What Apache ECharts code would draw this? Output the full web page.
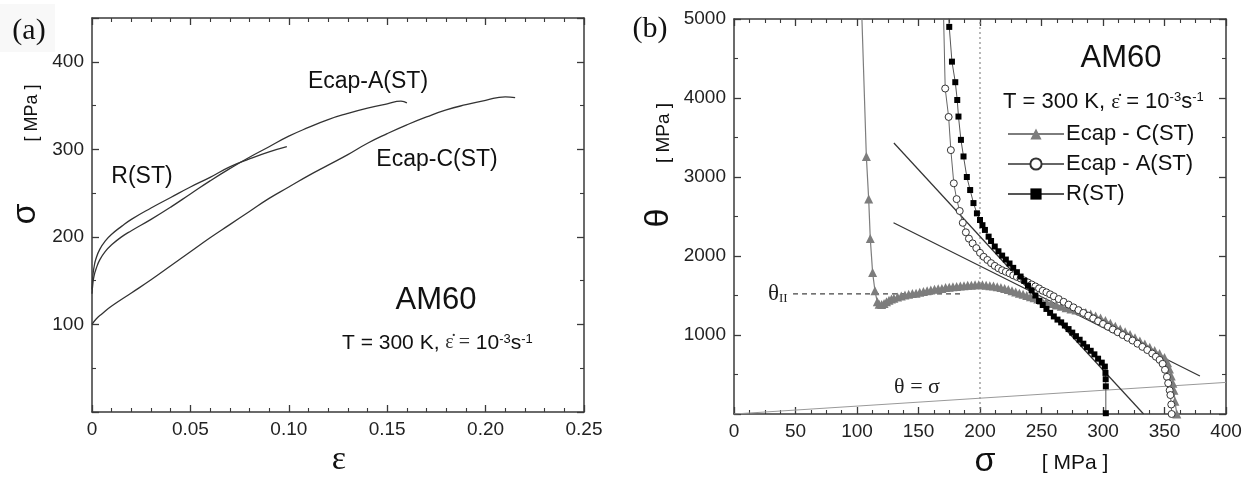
<!DOCTYPE html>
<html><head><meta charset="utf-8">
<script src="https://cdn.jsdelivr.net/npm/echarts@6/dist/echarts.min.js"></script>
<style>html,body{margin:0;padding:0;background:#fff}#c{width:1255px;height:480px}</style>
</head><body><div id="c"></div>
<script>
// ---------- Panel (a): stress-strain ----------
const epsC = [0, 0.002, 0.005, 0.01, 0.02, 0.03, 0.04, 0.05, 0.06, 0.07, 0.08, 0.09, 0.10, 0.11, 0.12, 0.13, 0.14, 0.15, 0.16, 0.17, 0.18, 0.19, 0.20, 0.21, 0.215];
const sigC = [100, 106, 112, 121, 136, 151, 167, 183, 199, 214, 229, 244, 257, 270, 282, 294, 307, 318, 328, 337, 345, 351, 356, 360, 359];
const epsA = [0, 0.0005, 0.001, 0.002, 0.004, 0.007, 0.01, 0.015, 0.02, 0.03, 0.04, 0.05, 0.06, 0.07, 0.08, 0.09, 0.10, 0.11, 0.12, 0.13, 0.14, 0.15, 0.157, 0.16];
const sigA = [135, 148, 155, 163, 174, 184, 191, 200, 207, 220, 234, 249, 264, 278, 291, 303, 315, 325, 334, 341, 347, 352, 355, 353];
const epsR = [0, 0.0005, 0.001, 0.002, 0.004, 0.007, 0.01, 0.015, 0.02, 0.03, 0.04, 0.05, 0.06, 0.07, 0.08, 0.09, 0.099];
const sigR = [140, 157, 165, 175, 186, 196, 203, 212, 220, 233, 245, 257, 268, 280, 289, 297, 303];
const xTicksA = ['0', '0.05', '0.10', '0.15', '0.20', '0.25'];

// ---------- Panel (b): theta vs sigma ----------
const sC = [103.8, 107.6, 109.5, 110.8, 112.7, 114.6, 116.5, 118, 120, 122, 124, 126, 128, 130, 133, 136, 139, 142, 145, 148, 151, 154, 157, 160, 163, 166, 169, 172, 175, 178, 181, 184, 187, 190, 193, 196, 199, 202, 205, 208, 211, 214, 217, 220, 223, 226, 229, 232, 235, 238, 241, 244, 247, 250, 254, 258, 262, 266, 270, 274, 278, 282, 286, 290, 294, 298, 302, 306, 310, 314, 318, 322, 326, 330, 334, 338, 342, 346, 350, 352.5, 354, 355.5, 356.8, 357.7, 358.5, 360];
const tC = [5100, 3260, 2720, 2220, 1790, 1560, 1420, 1390, 1385, 1400, 1420, 1440, 1455, 1465, 1480, 1495, 1505, 1515, 1525, 1530, 1540, 1550, 1560, 1570, 1580, 1585, 1590, 1600, 1605, 1610, 1615, 1620, 1625, 1630, 1630, 1635, 1635, 1635, 1630, 1625, 1620, 1610, 1600, 1590, 1575, 1560, 1545, 1530, 1515, 1500, 1485, 1470, 1455, 1440, 1420, 1400, 1380, 1365, 1345, 1330, 1315, 1300, 1285, 1265, 1240, 1215, 1185, 1150, 1110, 1075, 1040, 1005, 965, 925, 885, 845, 805, 765, 715, 650, 570, 480, 390, 300, 160, 0];
const sA = [170.3, 171.7, 174.5, 176.3, 178.7, 181, 183.5, 186, 188.5, 191, 194, 197, 200, 203, 206, 209, 212, 215, 218, 221, 224, 227, 230, 233, 236, 239, 242, 245, 248, 251, 254, 257, 260, 264, 268, 272, 276, 280, 284, 288, 292, 296, 300, 304, 308, 312, 316, 320, 324, 328, 332, 336, 340, 343, 346, 348.5, 350.4, 352, 353, 354.2, 354.8, 355.5, 355.8];
const tA = [5100, 4120, 3760, 3340, 2920, 2720, 2570, 2420, 2300, 2220, 2160, 2100, 2040, 1990, 1950, 1910, 1875, 1845, 1820, 1800, 1780, 1755, 1735, 1715, 1690, 1665, 1640, 1615, 1590, 1560, 1540, 1515, 1490, 1455, 1420, 1385, 1350, 1315, 1280, 1245, 1210, 1175, 1140, 1105, 1070, 1035, 1000, 965, 930, 890, 850, 810, 765, 725, 685, 635, 560, 470, 390, 300, 240, 120, 0];
const sR = [174.3, 175, 177.2, 179.9, 181.5, 182.5, 184.5, 186.6, 189.3, 192, 194.7, 197.5, 200, 202, 204, 207, 209, 212, 215, 218, 221, 224, 227, 230, 233, 236, 239, 242, 245, 248, 251, 254, 257, 260, 263, 266, 269, 272, 275, 278, 281, 284, 287, 290, 293, 296, 299, 301.5, 302, 302.2, 302.3, 302.3];
const tR = [5100, 4900, 4460, 4200, 3975, 3765, 3470, 3260, 3000, 2835, 2670, 2540, 2456, 2390, 2330, 2245, 2190, 2120, 2060, 2005, 1955, 1905, 1850, 1795, 1740, 1685, 1625, 1565, 1500, 1430, 1380, 1330, 1280, 1235, 1195, 1160, 1120, 1075, 1030, 985, 940, 890, 845, 800, 755, 700, 650, 600, 520, 440, 350, 10];
const tangent1 = [[130, 3430], [333, 0]];
const tangent2 = [[129.7, 2422], [378.8, 481]];
const thetaEqSigma = [[0, 0], [400, 400]];
const thetaII = [[48, 1520], [184, 1520]];
const sigma200 = [[200, 0], [200, 5000]];

const zip = (a, b) => a.map((v, i) => [v, b[i]]);

const FONT = 'Liberation Sans, Arial, sans-serif';
const SERIF = 'Liberation Serif, Times New Roman, serif';
const axisCol = '#3a3a3a';

function xAx(gi, pos, min, max, interval, split, labels, fmt) {
  return {
    type: 'value', gridIndex: gi, position: pos, min, max, interval,
    axisLine: { show: true, onZero: false, lineStyle: { color: axisCol, width: 1.5 } },
    axisTick: { show: true, inside: true, length: 7, lineStyle: { color: axisCol, width: 1.3 } },
    minorTick: { show: true, splitNumber: split, length: 4, lineStyle: { color: axisCol, width: 1.1 } },
    splitLine: { show: false },
    axisLabel: { show: labels, fontSize: 19, fontFamily: FONT, color: '#222', margin: 8, formatter: fmt }
  };
}

const option = {
  animation: false,
  backgroundColor: '#fff',
  grid: [
    { left: 92, top: 18, width: 492, height: 394 },
    { left: 734, top: 19, width: 492, height: 395 }
  ],
  xAxis: [
    xAx(0, 'bottom', 0, 0.25, 0.05, 5, true, (v) => xTicksA[Math.round(v / 0.05)]),
    xAx(0, 'top', 0, 0.25, 0.05, 5, false),
    xAx(1, 'bottom', 0, 400, 50, 4, true, (v) => String(v)),
    xAx(1, 'top', 0, 400, 50, 4, false)
  ],
  yAxis: [
    xAx(0, 'left', 0, 450, 100, 2, true, (v) => (v === 0 || v > 400) ? '' : String(v)),
    xAx(0, 'right', 0, 450, 100, 2, false),
    xAx(1, 'left', 0, 5000, 1000, 2, true, (v) => v === 0 ? '' : String(v)),
    xAx(1, 'right', 0, 5000, 1000, 2, false)
  ],
  legend: {
    data: ['Ecap - C(ST)', 'Ecap - A(ST)', 'R(ST)'],
    orient: 'vertical', left: 1002, top: 118,
    itemWidth: 56, itemHeight: 14, itemGap: 8,
    textStyle: { fontSize: 22, fontFamily: FONT, color: '#111', lineHeight: 22, padding: [0, 0, 0, -3] }
  },
  series: [
    { type: 'line', name: 'a-C', xAxisIndex: 0, yAxisIndex: 0, data: zip(epsC, sigC), showSymbol: false, smooth: true, lineStyle: { color: '#333', width: 1.3 } },
    { type: 'line', name: 'a-A', xAxisIndex: 0, yAxisIndex: 0, data: zip(epsA, sigA), showSymbol: false, smooth: true, lineStyle: { color: '#333', width: 1.3 } },
    { type: 'line', name: 'a-R', xAxisIndex: 0, yAxisIndex: 0, data: zip(epsR, sigR), showSymbol: false, smooth: true, lineStyle: { color: '#333', width: 1.3 } },

    { type: 'line', name: 'sig200', xAxisIndex: 2, yAxisIndex: 2, data: sigma200, showSymbol: false, silent: true, lineStyle: { color: '#888', width: 1.2, type: [2, 3] } },
    { type: 'line', name: 'eq', xAxisIndex: 2, yAxisIndex: 2, data: thetaEqSigma, showSymbol: false, silent: true, lineStyle: { color: '#999', width: 1 } },
    { type: 'line', name: 'thII', xAxisIndex: 2, yAxisIndex: 2, data: thetaII, showSymbol: false, silent: true, lineStyle: { color: '#444', width: 1.1, type: [5, 4] } },
    { type: 'line', name: 't1', xAxisIndex: 2, yAxisIndex: 2, data: tangent1, showSymbol: false, silent: true, lineStyle: { color: '#333', width: 1.2 } },
    { type: 'line', name: 't2', xAxisIndex: 2, yAxisIndex: 2, data: tangent2, showSymbol: false, silent: true, lineStyle: { color: '#333', width: 1.2 } },

    { type: 'line', name: 'Ecap - C(ST)', xAxisIndex: 2, yAxisIndex: 2, data: zip(sC, tC), clip: true, z: 3,
      symbol: 'triangle', symbolSize: 9, showAllSymbol: true,
      itemStyle: { color: '#7d7d7d', borderWidth: 0 }, lineStyle: { color: '#7d7d7d', width: 1.2 } },
    { type: 'line', name: 'Ecap - A(ST)', xAxisIndex: 2, yAxisIndex: 2, data: zip(sA, tA), clip: true, z: 4,
      symbol: 'circle', symbolSize: 7, showAllSymbol: true,
      itemStyle: { color: '#fff', borderColor: '#333', borderWidth: 1 }, lineStyle: { color: '#666', width: 1 } },
    { type: 'line', name: 'R(ST)', xAxisIndex: 2, yAxisIndex: 2, data: zip(sR, tR), clip: true, z: 5,
      symbol: 'rect', symbolSize: 6, showAllSymbol: true,
      itemStyle: { color: '#000', borderWidth: 0 }, lineStyle: { color: '#555', width: 1 } }
  ],
  graphic: [
    { type: 'rect', left: 0, top: 4, shape: { width: 55, height: 48 }, style: { fill: '#f8f8f8' }, z: -1 },
    { type: 'text', x: 29, y: 31, style: { text: '(a)', fontSize: 30, fontFamily: SERIF, fill: '#111', align: 'center', verticalAlign: 'middle' } },
    { type: 'text', x: 650, y: 29, style: { text: '(b)', fontSize: 30, fontFamily: SERIF, fill: '#111', align: 'center', verticalAlign: 'middle' } },
    // axis titles (a)
    { type: 'text', x: 26, y: 214, rotation: Math.PI / 2, style: { text: 'σ', fontSize: 34, fontFamily: FONT, fill: '#111', align: 'center', verticalAlign: 'middle' } },
    { type: 'text', x: 32, y: 113, rotation: Math.PI / 2, style: { text: '[ MPa ]', fontSize: 18, fontFamily: FONT, fill: '#111', align: 'center', verticalAlign: 'middle' } },
    { type: 'text', x: 339, y: 460, style: { text: 'ε', fontSize: 34, fontFamily: SERIF, fill: '#111', align: 'center', verticalAlign: 'middle' } },
    // axis titles (b)
    { type: 'text', x: 659, y: 218, rotation: Math.PI / 2, style: { text: 'θ', fontSize: 34, fontFamily: FONT, fill: '#111', align: 'center', verticalAlign: 'middle' } },
    { type: 'text', x: 664, y: 133, rotation: Math.PI / 2, style: { text: '[ MPa ]', fontSize: 19, fontFamily: FONT, fill: '#111', align: 'center', verticalAlign: 'middle' } },
    { type: 'text', x: 985, y: 462, style: { text: 'σ', fontSize: 34, fontFamily: FONT, fill: '#111', align: 'center', verticalAlign: 'middle' } },
    { type: 'text', x: 1075, y: 463, style: { text: '[ MPa ]', fontSize: 21, fontFamily: FONT, fill: '#111', align: 'center', verticalAlign: 'middle' } },
    // annotations (a)
    { type: 'text', x: 142, y: 177, style: { text: 'R(ST)', fontSize: 23, fontFamily: FONT, fill: '#111', align: 'center', verticalAlign: 'middle' } },
    { type: 'text', x: 368, y: 82, style: { text: 'Ecap-A(ST)', fontSize: 23, fontFamily: FONT, fill: '#111', align: 'center', verticalAlign: 'middle' } },
    { type: 'text', x: 437, y: 160, style: { text: 'Ecap-C(ST)', fontSize: 23, fontFamily: FONT, fill: '#111', align: 'center', verticalAlign: 'middle' } },
    { type: 'text', x: 436, y: 300, style: { text: 'AM60', fontSize: 31, fontFamily: FONT, fill: '#111', align: 'center', verticalAlign: 'middle' } },
    { type: 'text', x: 342, y: 343, style: { text: 'T = 300 K, {e|ε̇ =} 10{sup|-3}s{sup|-1}', fontSize: 21, fontFamily: FONT, fill: '#111', align: 'left', verticalAlign: 'middle',
      rich: { e: { fontSize: 20, fontFamily: SERIF, fill: '#333' }, sup: { fontSize: 13, fontFamily: FONT, fill: '#111', verticalAlign: 'top', lineHeight: 12 } } } },
    // annotations (b)
    { type: 'text', x: 1121, y: 58, style: { text: 'AM60', fontSize: 31, fontFamily: FONT, fill: '#111', align: 'center', verticalAlign: 'middle' } },
    { type: 'text', x: 1003, y: 102, style: { text: 'T = 300 K, {e|ε̇} = 10{sup|-3}s{sup|-1}', fontSize: 22, fontFamily: FONT, fill: '#111', align: 'left', verticalAlign: 'middle',
      rich: { e: { fontSize: 21, fontFamily: SERIF, fill: '#111' }, sup: { fontSize: 13, fontFamily: FONT, fill: '#111', verticalAlign: 'top', lineHeight: 12 } } } },
    { type: 'text', x: 768, y: 294, style: { text: 'θ{sub|II}', fontSize: 23, fontFamily: SERIF, fill: '#222', align: 'left', verticalAlign: 'middle',
      rich: { sub: { fontSize: 13, fontFamily: SERIF, fill: '#222', verticalAlign: 'bottom', lineHeight: 10 } } } },
    { type: 'text', x: 917, y: 387, style: { text: 'θ = σ', fontSize: 22, fontFamily: SERIF, fill: '#222', align: 'center', verticalAlign: 'middle' } }
  ]
};

const chart = echarts.init(document.getElementById('c'), null, { renderer: 'canvas' });
chart.setOption(option);
</script>
</body></html>
